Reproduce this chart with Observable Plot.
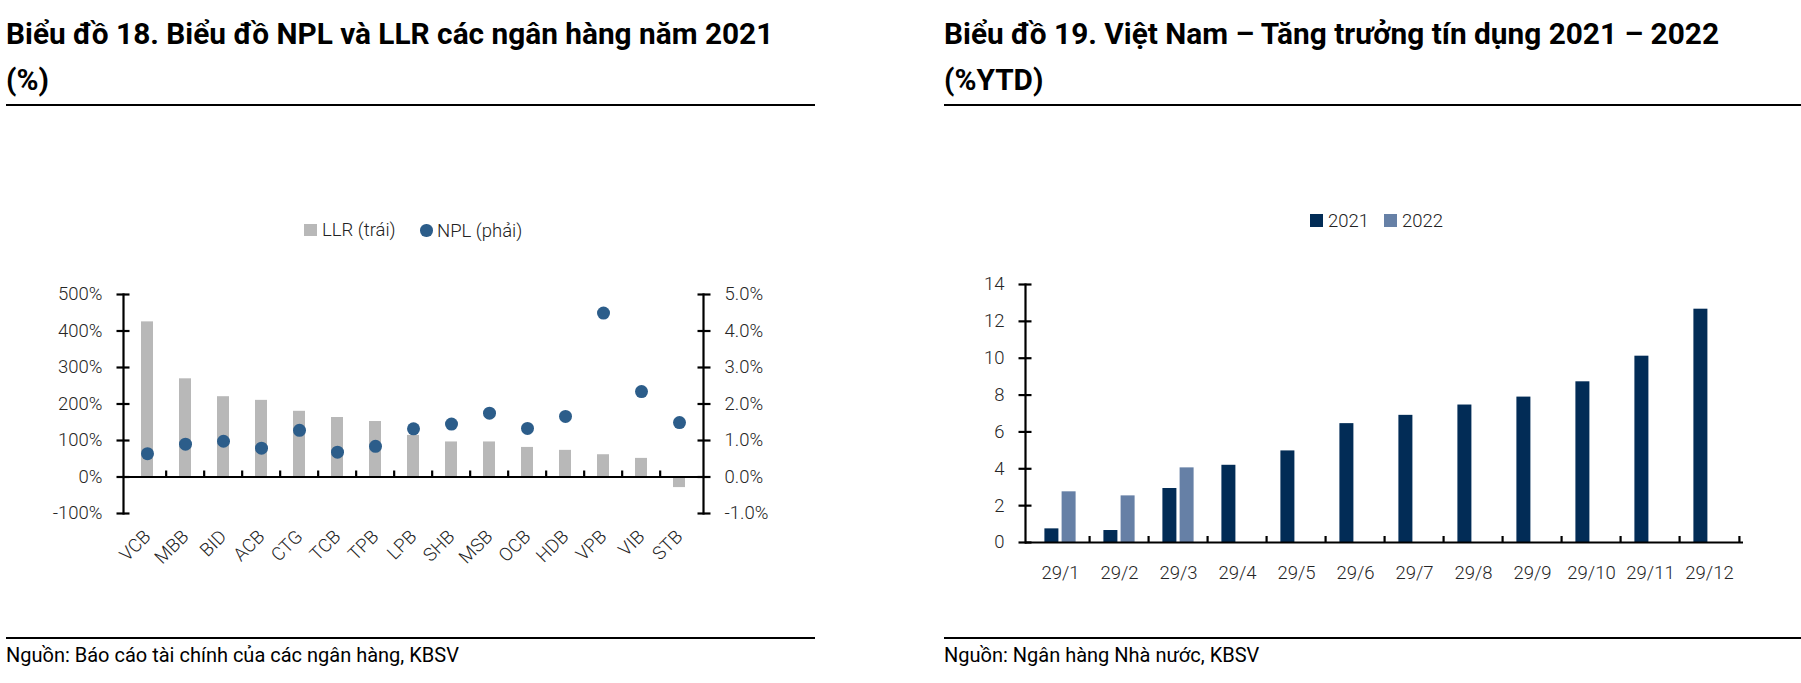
<!DOCTYPE html>
<html>
<head>
<meta charset="utf-8">
<script src="https://cdn.jsdelivr.net/npm/d3@7"></script>
<script src="https://cdn.jsdelivr.net/npm/@observablehq/plot@0.6"></script>
<style>
  body { margin: 0; background: #fff; }
  #page { position: relative; width: 1801px; height: 683px; overflow: hidden; font-family: Roboto, "Noto Sans", sans-serif; }
  .title { position: absolute; font-family: Roboto, sans-serif; font-weight: 700; font-size: 29.8px; line-height: 46px; color: #000; white-space: nowrap; }
  .rule { position: absolute; height: 1.6px; background: #000; }
  .src { position: absolute; font-size: 20px; line-height: 24px; color: #000; white-space: nowrap; }
  .leg { position: absolute; font-size: 18.5px; font-weight: 300; color: #222; line-height: 24px; white-space: nowrap; }
  .sw { position: absolute; }
  .chart { position: absolute; }
  .chart svg { overflow: visible; }
</style>
</head>
<body>
<div id="page">
  <div class="title" style="left:6px;top:11px;">Biểu đồ 18. Biểu đồ NPL và LLR các ngân hàng năm 2021<br>(%)</div>
  <div class="rule" style="left:6px;top:104px;width:809px;"></div>
  <div class="title" style="left:944px;top:11px;">Biểu đồ 19. Việt Nam – Tăng trưởng tín dụng 2021 – 2022<br>(%YTD)</div>
  <div class="rule" style="left:944px;top:104px;width:857px;"></div>

  <div id="legend1"></div>
  <div id="legend2"></div>

  <div class="chart" id="c1" style="left:0px;top:250px;"></div>
  <div class="chart" id="c1b" style="left:0px;top:250px;"></div>
  <div class="chart" id="c2" style="left:940px;top:250px;"></div>

  <div class="rule" style="left:6px;top:637px;width:809px;"></div>
  <div class="src" style="left:6px;top:643px;">Nguồn: Báo cáo tài chính của các ngân hàng, KBSV</div>
  <div class="rule" style="left:944px;top:637px;width:857px;"></div>
  <div class="src" style="left:944px;top:643px;">Nguồn: Ngân hàng Nhà nước, KBSV</div>
</div>
<script>
// ---------- Data: chart 18 ----------
const banks = ["VCB","MBB","BID","ACB","CTG","TCB","TPB","LPB","SHB","MSB","OCB","HDB","VPB","VIB","STB"];
const llrValues = [425, 269, 220, 210, 180, 163, 152, 114, 96, 96, 81, 73, 61, 51, -29];
const nplValues = [0.64, 0.90, 0.98, 0.79, 1.28, 0.68, 0.84, 1.32, 1.45, 1.75, 1.33, 1.66, 4.49, 2.34, 1.49];
const llrTicks = [-100, 0, 100, 200, 300, 400, 500];
const nplTicks = [-1, 0, 1, 2, 3, 4, 5];
const legend1Labels = ["LLR (trái)", "NPL (phải)"];

// ---------- Data: chart 19 ----------
const months = ["29/1","29/2","29/3","29/4","29/5","29/6","29/7","29/8","29/9","29/10","29/11","29/12"];
const credit2021 = [0.74, 0.65, 2.93, 4.19, 4.97, 6.45, 6.90, 7.46, 7.89, 8.72, 10.11, 12.66];
const credit2022 = [2.75, 2.53, 4.05];
const creditTicks = [0, 2, 4, 6, 8, 10, 12, 14];
const legend2Labels = ["2021", "2022"];

const C_LLR = "#b8b8b8", C_NPL = "#2c5d8a", C_2021 = "#022c56", C_2022 = "#6680a6";
const INK = "#000", TXT = "#262626";
const fontStyle = {fontFamily: "Roboto, sans-serif", fontSize: "18.5px", fontWeight: 300, color: TXT, background: "transparent", overflow: "visible"};

const bankData = banks.map((b, i) => ({bank: b, llr: llrValues[i], npl: nplValues[i]}));

// Chart 18 — left scale (LLR)
const W1 = 800, H1 = 340, mL1 = 123, mR1 = 97, mT1 = 44, mB1 = 77;
const step1 = (W1 - mL1 - mR1) / banks.length;
const xOpt1 = {domain: banks, paddingInner: 0.68, paddingOuter: 0.34, label: null};

const p1 = Plot.plot({
  width: W1, height: H1, marginLeft: mL1, marginRight: mR1, marginTop: mT1, marginBottom: mB1,
  style: fontStyle,
  x: xOpt1,
  y: {domain: [-100, 500], label: null},
  marks: [
    Plot.barY(bankData, {x: "bank", y: "llr", fill: C_LLR}),
    Plot.ruleY([0], {stroke: INK, strokeWidth: 2.2}),
    Plot.ruleX(banks.slice(1), {x: d => d, y1: 0, y2: 0, insetTop: -6, dx: -step1 / 2, stroke: INK, strokeWidth: 2.2}),
    Plot.frame({anchor: "left", stroke: INK, strokeWidth: 2.2}),
    Plot.axisY({ticks: llrTicks, tickSize: 13, dx: 6.5, tickFormat: () => "", stroke: INK, strokeWidth: 2.2}),
    Plot.axisY({ticks: llrTicks, tickSize: 0, tickPadding: 21, tickFormat: d => d + "%", fill: TXT}),
    Plot.axisX({tickRotate: -45, tickSize: 0, tickPadding: 20, fill: TXT})
  ]
});
document.getElementById("c1").append(p1);

// Chart 18 — right scale (NPL), overlaid
const p1b = Plot.plot({
  width: W1, height: H1, marginLeft: mL1, marginRight: mR1, marginTop: mT1, marginBottom: mB1,
  style: fontStyle,
  x: {...xOpt1, axis: null},
  y: {domain: [-1, 5], label: null},
  marks: [
    Plot.frame({anchor: "right", stroke: INK, strokeWidth: 2.2}),
    Plot.axisY({anchor: "right", ticks: nplTicks, tickSize: 13, dx: -6.5, tickFormat: () => "", stroke: INK, strokeWidth: 2.2}),
    Plot.axisY({anchor: "right", ticks: nplTicks, tickSize: 0, tickPadding: 21, tickFormat: d => d.toFixed(1) + "%", fill: TXT}),
    Plot.dot(bankData, {x: "bank", y: "npl", r: 6.5, fill: C_NPL})
  ]
});
document.getElementById("c1b").append(p1b);

// Chart 19
const creditData2021 = months.map((m, i) => ({month: m, v: credit2021[i]}));
const creditData2022 = credit2022.map((v, i) => ({month: months[i], v}));
const W2 = 830, H2 = 350, mL2 = 85, mR2 = 27, mT2 = 34, mB2 = 58;
const step2 = (W2 - mL2 - mR2) / months.length;
const p2 = Plot.plot({
  width: W2, height: H2, marginLeft: mL2, marginRight: mR2, marginTop: mT2, marginBottom: mB2,
  style: fontStyle,
  x: {domain: months, paddingInner: 0.77, paddingOuter: 0.385, label: null},
  y: {domain: [0, 14], label: null},
  marks: [
    Plot.barY(creditData2021, {x: "month", y: "v", fill: C_2021, dx: -8.6}),
    Plot.barY(creditData2022, {x: "month", y: "v", fill: C_2022, dx: 8.6}),
    Plot.ruleY([0], {stroke: INK, strokeWidth: 2.2}),
    Plot.ruleX(months.slice(1), {x: d => d, y1: 0, y2: 0, insetTop: -6, dx: -step2 / 2, stroke: INK, strokeWidth: 2.2}),
    Plot.ruleX(months.slice(-1), {x: d => d, y1: 0, y2: 0, insetTop: -6, dx: step2 / 2, stroke: INK, strokeWidth: 2.2}),
    Plot.frame({anchor: "left", stroke: INK, strokeWidth: 2.2}),
    Plot.axisY({ticks: creditTicks, tickSize: 13, dx: 6.5, tickFormat: () => "", stroke: INK, strokeWidth: 2.2}),
    Plot.axisY({ticks: creditTicks, tickSize: 0, tickPadding: 21, fill: TXT}),
    Plot.axisX({tickSize: 0, tickPadding: 23, fill: TXT})
  ]
});
document.getElementById("c2").append(p2);

// Legends (HTML)
function legend(el, items) {
  const host = document.getElementById(el);
  items.forEach(it => {
    const sw = document.createElement("div");
    sw.className = "sw";
    Object.assign(sw.style, {left: it.sx + "px", top: (it.cy - it.size / 2) + "px", width: it.size + "px", height: it.size + "px", background: it.color, borderRadius: it.round ? "50%" : "0"});
    host.append(sw);
    const t = document.createElement("div");
    t.className = "leg";
    t.textContent = it.label;
    Object.assign(t.style, {left: it.tx + "px", top: (it.cy - 12) + "px"});
    host.append(t);
  });
}
legend("legend1", [
  {label: legend1Labels[0], color: C_LLR, sx: 304, tx: 322, cy: 230, size: 12.5},
  {label: legend1Labels[1], color: C_NPL, sx: 420, tx: 437, cy: 230.5, size: 12.5, round: true}
]);
legend("legend2", [
  {label: legend2Labels[0], color: C_2021, sx: 1310, tx: 1328, cy: 220.5, size: 12.5},
  {label: legend2Labels[1], color: C_2022, sx: 1384, tx: 1402, cy: 220.5, size: 12.5}
]);
</script>
</body>
</html>
